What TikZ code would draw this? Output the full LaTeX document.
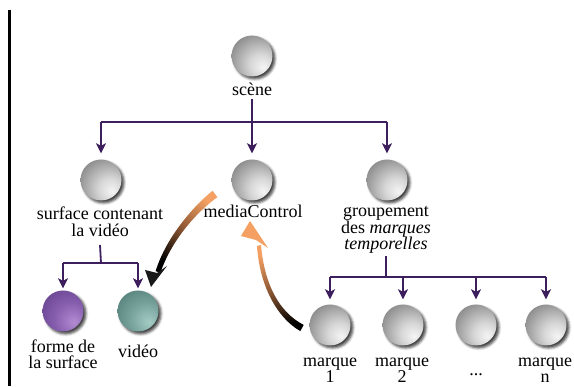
\documentclass[tikz,border=0pt]{standalone}
\usepackage{fontspec}
\setmainfont{Liberation Serif}
\usetikzlibrary{arrows.meta,shadows.blur}

\definecolor{wirepurple}{HTML}{3D1F5E}
\definecolor{arrorange}{HTML}{F4A062}
\definecolor{arrbrown}{HTML}{8A5532}

% sphere shadings: highlight toward the lower right
\pgfdeclareradialshading{graysphere}{\pgfpoint{14bp}{-14bp}}{%
  color(0bp)=(black!4); color(14bp)=(black!16); color(38bp)=(black!48); color(70bp)=(black!74)}
\pgfdeclareradialshading{purplesphere}{\pgfpoint{14bp}{-14bp}}{%
  color(0bp)=(rgb,255:red,178;green,140;blue,210); color(20bp)=(rgb,255:red,135;green,95;blue,175);
  color(45bp)=(rgb,255:red,95;green,60;blue,135); color(70bp)=(rgb,255:red,58;green,32;blue,88)}
\pgfdeclareradialshading{tealsphere}{\pgfpoint{14bp}{-14bp}}{%
  color(0bp)=(rgb,255:red,165;green,205;blue,198); color(20bp)=(rgb,255:red,118;green,162;blue,155);
  color(45bp)=(rgb,255:red,75;green,118;blue,112); color(70bp)=(rgb,255:red,38;green,72;blue,68)}

\tikzset{
  ball/.style={circle, minimum size=41pt, inner sep=0pt, shade, shading=graysphere,
    blur shadow={shadow xshift=2.5pt, shadow yshift=-2.5pt, shadow blur radius=2.5pt, shadow opacity=75}},
  lbl/.style={font=\fontsize{18}{16.5}\selectfont, align=center, inner sep=0pt, anchor=base},
  wire/.style={draw=wirepurple, line width=1.8pt},
  feed/.style={wire, -{Stealth[length=10pt,width=10pt,inset=2.5pt]}},
}

\begin{document}
\begin{tikzpicture}[x=1pt,y=-1pt]
\useasboundingbox (0,0) rectangle (574,387);

% left margin rule
\draw[line width=3pt] (9.5,10) -- (9.5,386);

% spheres
\node[ball] (scene) at (252,56) {};
\node[ball] (surf)  at (101,180) {};
\node[ball] (media) at (252,180) {};
\node[ball] (grp)   at (387,180) {};
\node[ball, shading=purplesphere] (forme) at (63,311) {};
\node[ball, shading=tealsphere]   (video) at (138,311) {};
\node[ball] (m1) at (330,325) {};
\node[ball] (m2) at (403,325) {};
\node[ball] (m3) at (476,325) {};
\node[ball] (mn) at (546,325) {};

% labels (base = baseline of the last line)
\node[lbl] (sceneLbl) at (252,96) {scène};
\node[lbl] (surfLbl)  at (100,236.5) {surface contenant\\la vidéo};
\node[lbl] (mediaLbl) at (253,218) {mediaControl};
\node[lbl] (grpLbl)   at (386,250) {groupement\\des \textit{marques}\\\textit{temporelles}};
\node[lbl] (formeLbl) at (63,369) {forme de\\la surface};
\node[lbl] (videoLbl) at (138,358) {vidéo};
\node[lbl] (m1Lbl) at (330,383) {marque\\1};
\node[lbl] (m2Lbl) at (402,383) {marque\\2};
\node[lbl] (m3Lbl) at (476,376) {...};
\node[lbl] (mnLbl) at (545,383) {marque\\n};

% scene tree
\coordinate (busA) at (252,122);
\draw[wire] (busA -| surf) -- (busA -| grp);
\draw[feed, shorten <=3pt, shorten >=6pt] (sceneLbl.south) -- (media.north);
\draw[feed, shorten >=6pt] (busA -| surf) -- (surf.north);
\draw[feed, shorten >=6pt] (busA -| grp) -- (grp.north);

% surface subtree
\coordinate (busB) at (101,263);
\draw[wire] (surfLbl.south |- 0,245) -- (busB);
\draw[wire] (busB -| forme) -- (busB -| video);
\draw[feed, shorten >=2pt] (busB -| forme) -- (forme.north);
\draw[feed, shorten >=2pt] (busB -| video) -- (video.north);

% time marks subtree
\coordinate (busC) at (386,277);
\draw[wire] (grpLbl.south |- 0,256) -- (busC);
\draw[wire] (busC -| m1) -- (busC -| mn);
\foreach \m in {m1,m2,m3,mn}
  \draw[feed, shorten >=5pt] (busC -| \m) -- (\m.north);

% mediaControl drives the video
\shade[top color=arrorange, bottom color=black, middle color=arrbrown, shading angle=-36]
  (212.6,190.8) .. controls (197.9,202.2) and (167.1,234.1) .. (155.6,271.2)
  -- (160.4,272.8) .. controls (172.9,235.9) and (202.1,207.8) .. (217.4,197.2) -- cycle;
\fill[black!90] (145,270) -- (151,287) -- (167,266) -- (157,273) -- cycle;

% time marks report back to mediaControl
\shade[top color=arrorange, bottom color=black, middle color=arrbrown, shading angle=20]
  (300.3,331.1) .. controls (276.6,317.6) and (259.5,285) .. (257,246)
  -- (261,245) .. controls (264.5,285) and (279.4,312.4) .. (303.7,324.9) -- cycle;
\fill[arrorange] (250,221) -- (241,236) -- (256,240) -- (268,248) -- cycle;
\end{tikzpicture}
\end{document}
